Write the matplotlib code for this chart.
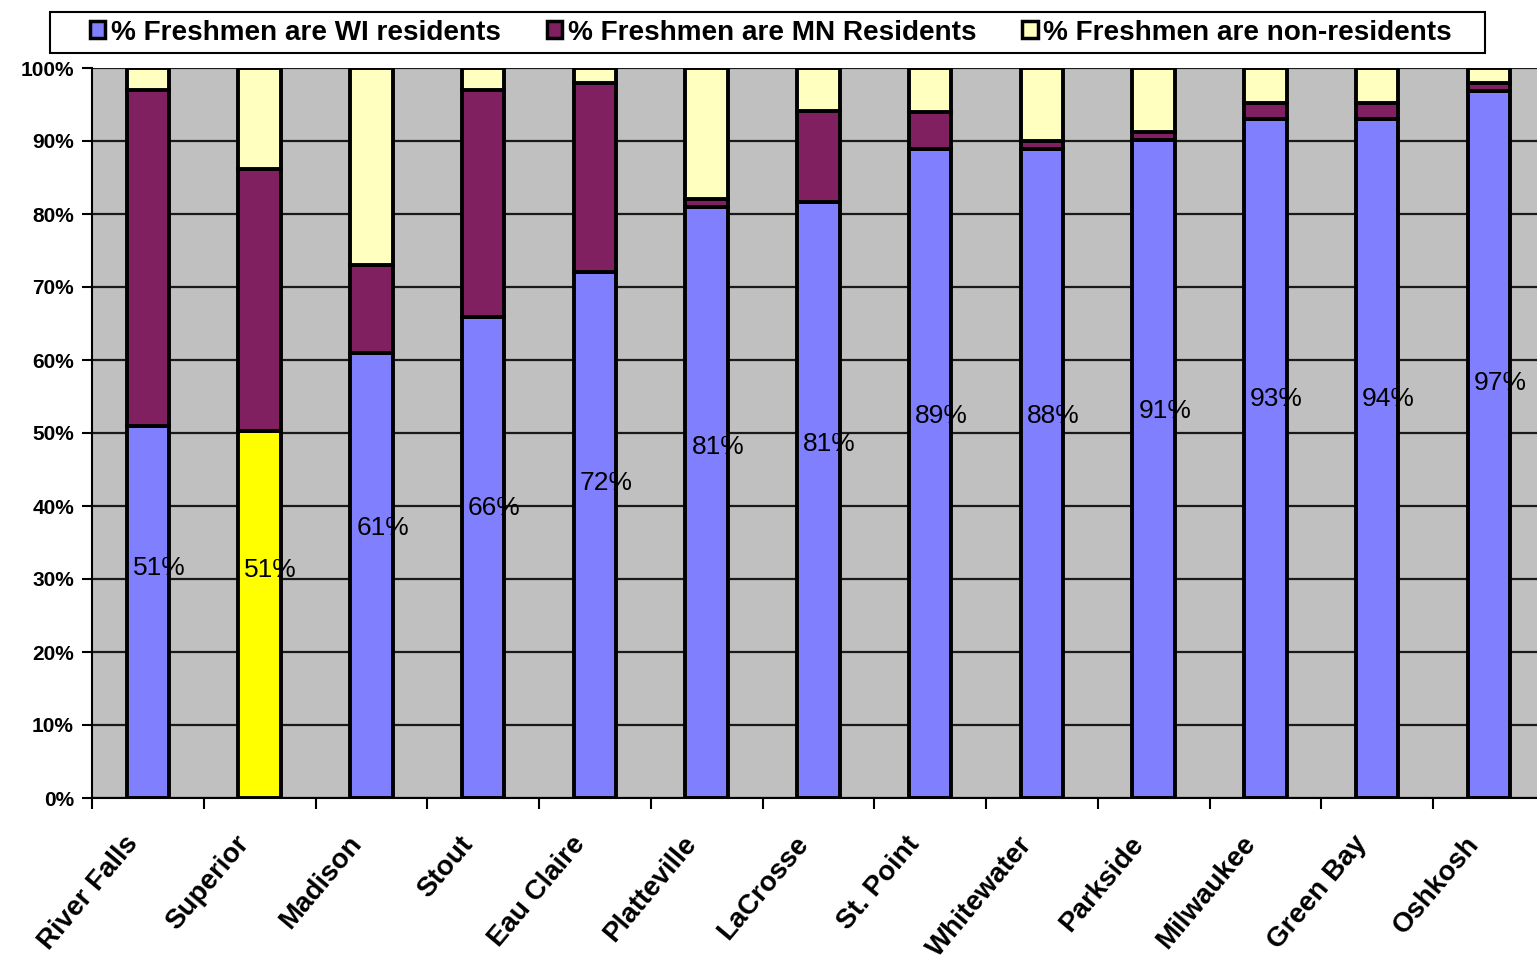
import numpy as np
import matplotlib
matplotlib.use('Agg')
import matplotlib.pyplot as plt
from matplotlib.patches import Rectangle
from matplotlib.ticker import FixedLocator

campuses = ['River Falls', 'Superior', 'Madison', 'Stout', 'Eau Claire', 'Platteville',
            'LaCrosse', 'St. Point', 'Whitewater', 'Parkside', 'Milwaukee', 'Green Bay', 'Oshkosh']
wi_pct = [51.0, 50.3, 61.0, 65.9, 72.0, 81.0, 81.7, 88.9, 88.9, 90.1, 93.0, 93.0, 96.9]
mn_pct = [46.0, 35.8, 12.0, 31.1, 25.9, 1.0, 12.4, 5.1, 1.1, 1.1, 2.2, 2.2, 1.1]
wi_labels = ['51%', '51%', '61%', '66%', '72%', '81%', '81%', '89%', '88%', '91%', '93%', '94%', '97%']
highlight = 'Superior'

wi = np.array(wi_pct)
mn = np.array(mn_pct)
non = 100 - wi - mn
x = np.arange(len(campuses))

plt.rcParams['font.family'] = ['Liberation Sans', 'DejaVu Sans']

fig = plt.figure(figsize=(15.37, 9.59), dpi=100)
ax = fig.add_axes([92 / 1537, 1 - 798 / 959, 1 - 92 / 1537, (798 - 68) / 959])
ax.set_facecolor('#C0C0C0')

wi_colors = ['#FFFF00' if c == highlight else '#8080FF' for c in campuses]
w = 0.38
kw = dict(width=w, edgecolor='black', linewidth=2.8, zorder=3)
b1 = ax.bar(x, wi, color=wi_colors, **kw)
b2 = ax.bar(x, mn, bottom=wi, color='#802060', **kw)
b3 = ax.bar(x, non, bottom=wi + mn, color='#FFFFC0', **kw)

# data labels for the WI share, sitting a bit above mid-bar
for xi, v, t in zip(x, wi, wi_labels):
    ax.text(xi + 0.1, 0.55 * v + 3.5, t, ha='center', va='center', fontsize=19, zorder=5)

ax.set_xlim(-0.5, 12.43)
ax.set_ylim(0, 100)
ax.set_yticks(np.arange(0, 101, 10))
ax.set_yticklabels([f'{v}%' for v in range(0, 101, 10)], fontsize=15, fontweight='bold')
ax.yaxis.grid(True, color='#1a1a1a', linewidth=1.6, zorder=1)
ax.set_axisbelow(True)

# category names end a little left of the bar centre
ax.set_xticks(x - 0.22)
ax.set_xticklabels(campuses, rotation=50, ha='right', rotation_mode='anchor',
                   fontsize=20, fontweight='bold')
ax.xaxis.set_minor_locator(FixedLocator(np.arange(-0.5, 13, 1)))
ax.tick_params(axis='x', which='major', length=0, pad=24)
ax.tick_params(axis='x', which='minor', length=8, width=1.5, direction='out')
ax.tick_params(axis='y', length=7, width=1.5, direction='out', pad=6)

for s in ['top', 'right']:
    ax.spines[s].set_visible(False)
ax.spines['left'].set_linewidth(1.5)
ax.spines['bottom'].set_linewidth(1.5)

# legend box drawn separately so it can be wider than its contents
fig.patches.append(Rectangle((50 / 1537, 1 - 53 / 959), 1435 / 1537, 41 / 959,
                             transform=fig.transFigure, facecolor='white',
                             edgecolor='black', linewidth=1.5, zorder=0))
leg = fig.legend(handles=[b1[0], b2, b3], labels=['% Freshmen are WI residents',
                 '% Freshmen are MN Residents', '% Freshmen are non-residents'],
                 loc='center', bbox_to_anchor=(771 / 1537, 1 - 32.5 / 959), ncol=3,
                 frameon=False, borderpad=0.2,
                 handlelength=0.55, handleheight=0.55, handletextpad=0.2,
                 columnspacing=1.65, prop={'size': 20.1, 'weight': 'bold'})
leg.legend_handles[0].set_facecolor('#8080FF')
for h in leg.legend_handles:
    h.set_linewidth(2.5)

fig.savefig('out.png', dpi=100)
